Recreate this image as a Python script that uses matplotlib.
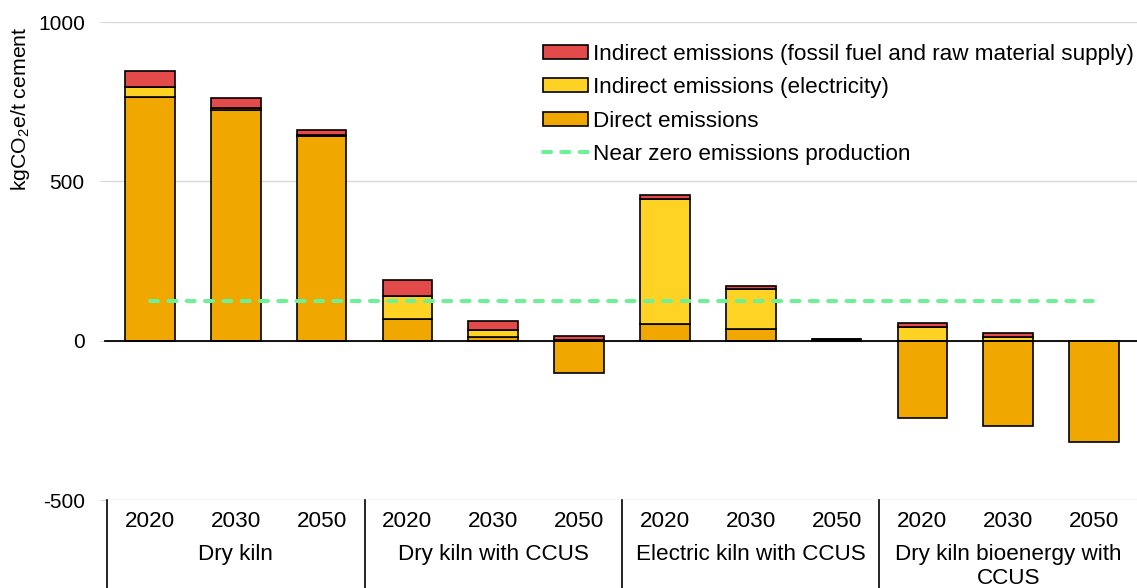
import matplotlib
matplotlib.use("Agg")
import matplotlib.pyplot as plt
from matplotlib.patches import Patch
from matplotlib.lines import Line2D
import numpy as np

plt.rcParams['font.family'] = ['Liberation Sans', 'DejaVu Sans']
plt.rcParams['mathtext.fontset'] = 'custom'
plt.rcParams['mathtext.rm'] = 'Liberation Sans'
plt.rcParams['mathtext.it'] = 'Liberation Sans:italic'

groups = ["Dry kiln", "Dry kiln with CCUS", "Electric kiln with CCUS", "Dry kiln bioenergy with\nCCUS"]
years = ["2020", "2030", "2050"]

direct = [766, 723, 643, 69, 12, -102, 53, 37, 2, -242, -267, -318]
electricity = [31, 8, 2, 70, 22, 2, 390, 124, 2, 42, 13, 0]
fossil = [50, 29, 15, 50, 29, 14, 14, 9, 2, 13, 11, 0]
near_zero = 126

col_fossil = '#E34B4B'
col_elec = '#FFD324'
col_direct = '#F0A800'
col_green = '#6EF096'

FS = 16.2

fig = plt.figure(figsize=(11.37, 5.88), dpi=100)
ax = fig.add_axes([107/1137, 88/588, 1030/1137, 478/588])

n = len(direct)
x = np.arange(n)
direct = np.array(direct, float)
electricity = np.array(electricity, float)
fossil = np.array(fossil, float)

pos_base = np.where(direct > 0, direct, 0)
bw = 0.58
ek = dict(edgecolor='black', linewidth=1.2, width=bw, zorder=3)
ax.bar(x, direct, color=col_direct, **ek)
ax.bar(x, electricity, bottom=pos_base, color=col_elec, **ek)
ax.bar(x, fossil, bottom=pos_base + electricity, color=col_fossil, **ek)

dash = (0, (2.0, 2.55))
ax.plot([x[0], x[-1]], [near_zero, near_zero], color=col_green, lw=2.9,
        ls=dash, dash_capstyle='round', zorder=5)

ax.axhline(0, xmin=-0.002, xmax=1, color='black', lw=1.3, zorder=4, clip_on=False)

ax.set_xlim(-0.5, n - 0.5)
ax.set_ylim(-500, 1000)
ax.set_yticks([-500, 0, 500, 1000])
ax.set_yticklabels(['-500', '0', '500', '1000'], fontsize=15)
ax.yaxis.grid(True, color='#d9d9d9', lw=1, zorder=0)
ax.set_axisbelow(True)
ax.tick_params(axis='y', length=5, color='#d9d9d9', pad=11)
for s in ax.spines.values():
    s.set_visible(False)

ax.set_xticks(x)
ax.set_xticklabels([])
ax.tick_params(axis='x', length=0)
for i in range(n):
    ax.text(x[i], -0.046, years[i % 3], transform=ax.get_xaxis_transform(),
            ha='center', va='center', fontsize=FS)
for g, name in enumerate(groups):
    ax.text(3 * g + 1, -0.092, name, transform=ax.get_xaxis_transform(),
            ha='center', va='top', fontsize=FS, linespacing=1.22)
for xs in [-0.5, 2.5, 5.5, 8.5]:
    ax.plot([xs, xs], [0, -0.2], transform=ax.get_xaxis_transform(),
            color='black', lw=1.2, clip_on=False)

ax.set_ylabel('kgCO$_2$e/t cement', fontsize=15.3)
ax.yaxis.set_label_coords(-0.0725, 0.818)

handles = [Patch(facecolor=col_fossil, edgecolor='black', lw=1.2),
           Patch(facecolor=col_elec, edgecolor='black', lw=1.2),
           Patch(facecolor=col_direct, edgecolor='black', lw=1.2),
           Line2D([0], [0], color=col_green, lw=2.9, ls=dash, dash_capstyle='round')]
labels = ["Indirect emissions (fossil fuel and raw material supply)",
          "Indirect emissions (electricity)",
          "Direct emissions",
          "Near zero emissions production"]
ax.legend(handles, labels, loc='upper right', bbox_to_anchor=(1.006, 0.973),
          frameon=False, fontsize=FS, handlelength=2.0, handleheight=0.6,
          handletextpad=0.22, labelspacing=0.55, borderaxespad=0.0)

fig.savefig('out.png', dpi=100)
